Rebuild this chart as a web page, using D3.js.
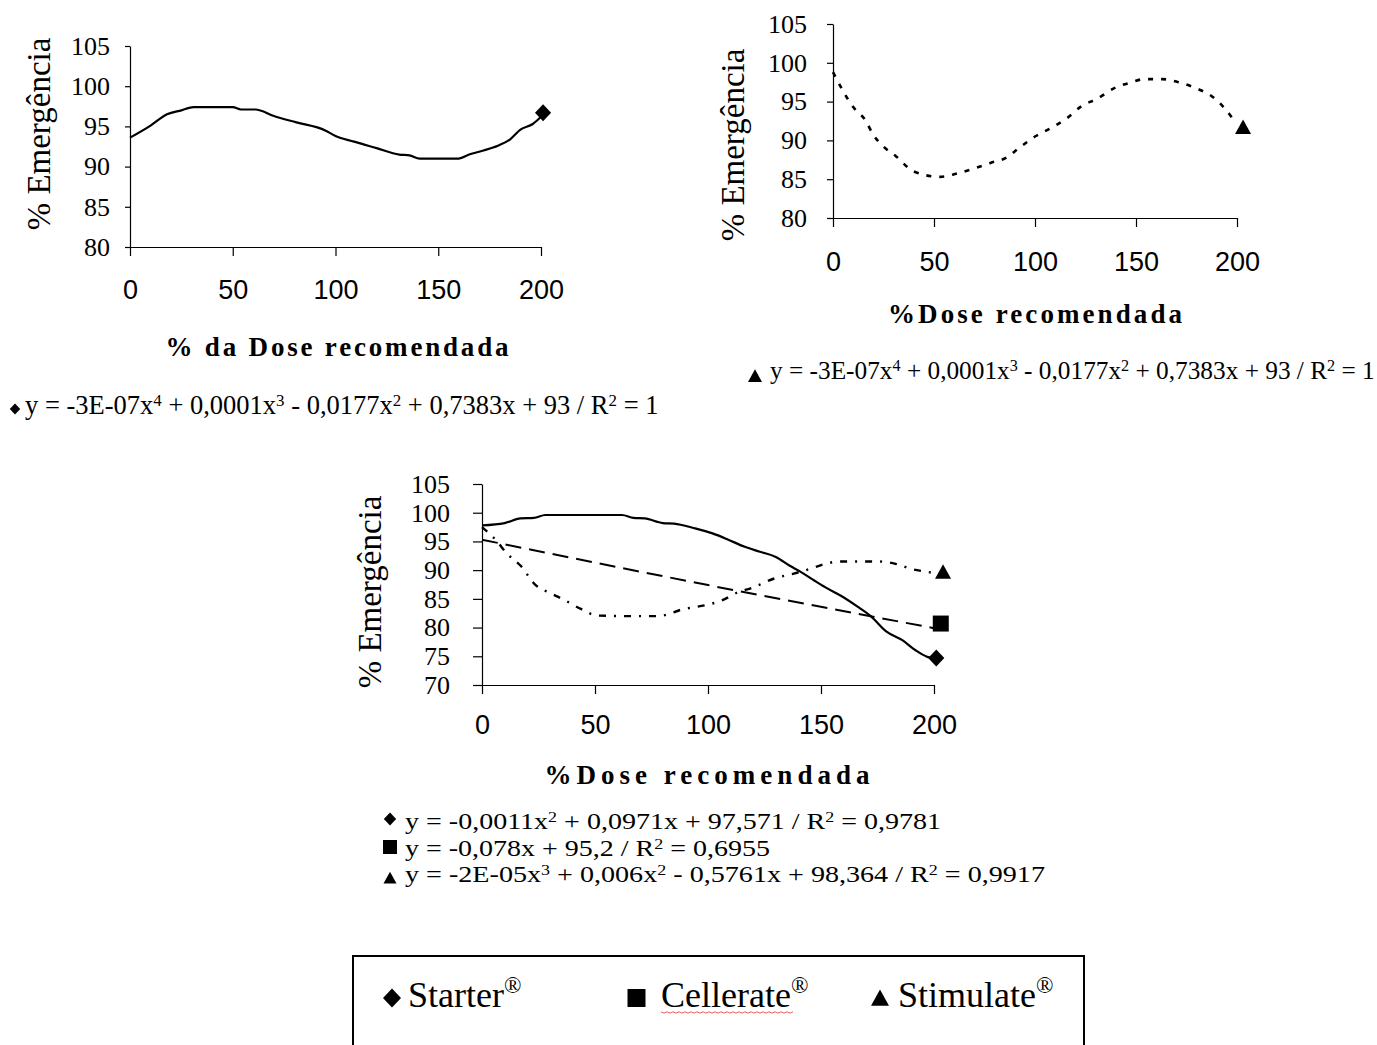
<!DOCTYPE html>
<html><head><meta charset="utf-8">
<script src="https://cdn.jsdelivr.net/npm/d3@7"></script>
<style>body{margin:0;background:#fff} svg{display:block}</style>
</head><body>
<svg id="c" width="1377" height="1045"></svg>
<script>
// ---------- DATA ----------
const doseTicks = [0, 50, 100, 150, 200];
const yTicksTop = [80, 85, 90, 95, 100, 105];
const yTicksBottom = [70, 75, 80, 85, 90, 95, 100, 105];

// Top-left: Starter alone (4th-degree fit)
const tlDose = [0, 10, 18, 25, 31, 40, 50, 54, 61, 70, 81, 95, 100, 109, 120, 131, 136, 141, 150, 160, 165, 172, 179, 185, 190, 196, 200];
const tlEmerg = [93.6, 95.1, 96.5, 97.0, 97.4, 97.4, 97.4, 97.1, 97.1, 96.3, 95.5, 94.5, 93.8, 93.1, 92.3, 91.5, 91.4, 91.0, 91.0, 91.0, 91.5, 92.0, 92.6, 93.4, 94.6, 95.3, 96.2];
const tlMarker = {dose: 201, value: 96.7};

// Top-right: Stimulate alone
const trDose = [0, 10, 16, 20, 25, 31, 40, 53, 61, 70, 78, 86, 92, 100, 108, 116, 123, 131, 139, 148, 154, 163, 171, 180, 188, 194, 199];
const trEmerg = [98.8, 94.3, 92.6, 90.7, 89.2, 88.0, 86.0, 85.3, 85.7, 86.4, 87.1, 87.8, 89.0, 90.5, 91.6, 92.9, 94.4, 95.4, 96.7, 97.5, 97.9, 97.9, 97.5, 96.7, 95.6, 94.1, 92.4];
const trMarker = {dose: 203, value: 91.7};

// Bottom: combined
const starterDose = [0, 10, 17, 23, 28, 45, 62, 67, 72, 80, 85, 94, 102, 109, 116, 123, 130, 136, 141, 147, 152, 159, 166, 172, 179, 186, 192, 197, 200];
const starterEmerg = [97.8, 98.2, 99.0, 99.1, 99.6, 99.6, 99.6, 99.1, 99.0, 98.2, 98.1, 97.3, 96.4, 95.3, 94.1, 93.2, 92.3, 90.8, 89.7, 88.2, 87.0, 85.5, 83.7, 82.0, 79.3, 77.8, 76.0, 74.9, 74.6];
const cellerateDose = [0, 100, 200];
const cellerateEmerg = [95.3, 87.4, 79.9];
const stimulateDose = [0, 6, 11, 17, 24, 28, 36, 44, 51, 64, 78, 89, 100, 106, 113, 120, 129, 138, 145, 152, 158, 176, 183, 190, 197, 200];
const stimulateEmerg = [97.5, 95.3, 92.9, 90.8, 87.3, 86.4, 84.9, 83.2, 82.1, 82.0, 82.0, 83.2, 84.0, 84.7, 86.1, 87.0, 88.5, 89.4, 90.2, 91.1, 91.5, 91.5, 91.1, 90.2, 89.7, 89.5];
const bMarkers = [
  {shape: "diamond", dose: 201, value: 74.7},
  {shape: "square", dose: 203, value: 80.7},
  {shape: "triangle", dose: 204, value: 89.7}
];

const eqTopLeft = "y = -3E-07x^4 + 0,0001x^3 - 0,0177x^2 + 0,7383x + 93 / R^2 = 1";
const eqTopRight = "y = -3E-07x^4 + 0,0001x^3 - 0,0177x^2 + 0,7383x + 93 / R^2 = 1";
const eqBottom = [
  {shape: "diamond", text: "y = -0,0011x^2 + 0,0971x + 97,571 / R^2 = 0,9781"},
  {shape: "square", text: "y = -0,078x + 95,2 / R^2 = 0,6955"},
  {shape: "triangle", text: "y = -2E-05x^3 + 0,006x^2 - 0,5761x + 98,364 / R^2 = 0,9917"}
];
const legendItems = [
  {shape: "diamond", name: "Starter"},
  {shape: "square", name: "Cellerate"},
  {shape: "triangle", name: "Stimulate"}
];
const yTitle = "% Emergência";

// ---------- DRAWING ----------
const svg = d3.select("#c");
const SERIF = "'Liberation Serif','Times New Roman',serif";
const SANS = "'Liberation Sans',Arial,sans-serif";

function shapePath(shape, s) {
  const h = s / 2;
  if (shape === "diamond") return `M0,${-h}L${h * 0.95},0L0,${h}L${-h * 0.95},0Z`;
  if (shape === "square") return `M${-h},${-h}H${h}V${h}H${-h}Z`;
  return `M0,${-h * 0.95}L${h},${h * 0.85}L${-h},${h * 0.85}Z`;
}
function marker(g, shape, x, y, s) {
  g.append("path").attr("d", shapePath(shape, s))
    .attr("transform", `translate(${x},${y})`).attr("fill", "#000");
}
function richText(sel, str, fs) {
  const parts = str.split(/(\^\d)/).filter(p => p.length);
  let raised = false;
  parts.forEach(p => {
    if (p.startsWith("^")) {
      sel.append("tspan").attr("dy", -fs * 0.3).attr("font-size", fs * 0.64).text(p.slice(1));
      raised = true;
    } else {
      const t = sel.append("tspan").text(p);
      if (raised) { t.attr("dy", fs * 0.3); raised = false; }
    }
  });
}

function chart(cfg) {
  const x = d3.scaleLinear().domain([0, 200]).range([cfg.x0, cfg.x1]);
  const y = d3.scaleLinear().domain(cfg.yDomain).range([cfg.yb, cfg.yt]);
  const g = svg.append("g");

  const ya = g.append("g").attr("transform", `translate(${cfg.x0},0)`)
    .call(d3.axisLeft(y).tickValues(cfg.yTicks).tickSize(cfg.yTick).tickSizeOuter(0).tickPadding(cfg.yPad));
  ya.attr("font-family", SERIF).attr("font-size", 26);
  ya.selectAll("text").attr("fill", "#000");
  ya.selectAll("line,path").attr("stroke", "#000").attr("stroke-width", 1.2);

  const xa = g.append("g").attr("transform", `translate(0,${cfg.yb})`)
    .call(d3.axisBottom(x).tickValues(doseTicks).tickSize(cfg.xTick).tickSizeOuter(0).tickPadding(cfg.xPad));
  xa.attr("font-family", SANS).attr("font-size", 27);
  xa.selectAll("text").attr("fill", "#000");
  xa.selectAll("line,path").attr("stroke", "#000").attr("stroke-width", 1.2);

  g.append("text").attr("transform", `translate(${cfg.ytx},${cfg.yty}) rotate(-90)`)
    .attr("text-anchor", "middle").attr("font-family", SERIF).attr("font-size", 33)
    .attr("fill", "#000").text(yTitle);
  g.append("text").attr("x", cfg.xtx - cfg.xtw / 2).attr("y", cfg.xty)
    .attr("font-family", SERIF).attr("font-size", 27).attr("font-weight", "bold")
    .attr("textLength", cfg.xtw).attr("lengthAdjust", "spacing")
    .attr("fill", "#000").text(cfg.xTitle);

  cfg.series.forEach(s => {
    const line = d3.line().x((d, i) => x(s.xs[i])).y(d => y(d)).curve(d3.curveMonotoneX);
    g.append("path").attr("d", line(s.ys)).attr("fill", "none").attr("stroke", "#000")
      .attr("stroke-width", s.w).attr("stroke-dasharray", s.dash || null);
  });
  cfg.markers.forEach(m => marker(g, m.shape, x(m.dose), y(m.value), m.shape === "diamond" ? 17 : 16));
}

chart({
  x0: 130, x1: 541, yt: 46, yb: 247, yDomain: [80, 105], yTicks: yTicksTop,
  yTick: 5, yPad: 15, xTick: 9, xPad: 24,
  ytx: 50, yty: 134, xtx: 337, xty: 356, xtw: 343, xTitle: "% da Dose recomendada",
  series: [{xs: tlDose, ys: tlEmerg, w: 2.2}],
  markers: [{shape: "diamond", dose: tlMarker.dose, value: tlMarker.value}]
});
chart({
  x0: 833, x1: 1237, yt: 24, yb: 218, yDomain: [80, 105], yTicks: yTicksTop,
  yTick: 6, yPad: 20, xTick: 9, xPad: 25,
  ytx: 744, yty: 145, xtx: 1035, xty: 323, xtw: 294, xTitle: "%Dose recomendada",
  series: [{xs: trDose, ys: trEmerg, w: 2.6, dash: "5,8"}],
  markers: [{shape: "triangle", dose: trMarker.dose, value: trMarker.value}]
});
chart({
  x0: 482, x1: 934, yt: 484, yb: 685, yDomain: [70, 105], yTicks: yTicksBottom,
  yTick: 9, yPad: 23, xTick: 9, xPad: 21,
  ytx: 381, yty: 592, xtx: 707, xty: 784, xtw: 325, xTitle: "%Dose recomendada",
  series: [
    {xs: starterDose, ys: starterEmerg, w: 2.2},
    {xs: cellerateDose, ys: cellerateEmerg, w: 2, dash: "16,8"},
    {xs: stimulateDose, ys: stimulateEmerg, w: 2.4, dash: "7,8,2,8"}
  ],
  markers: bMarkers
});

// Equations
function eq(xm, ym, shape, str, fs, tx, ty, ms, len) {
  marker(svg, shape, xm, ym, ms);
  const t = svg.append("text").attr("x", tx).attr("y", ty)
    .attr("font-family", SERIF).attr("font-size", fs).attr("fill", "#000");
  if (len) t.attr("textLength", len).attr("lengthAdjust", "spacingAndGlyphs");
  richText(t, str, fs);
}
eq(15, 409, "diamond", eqTopLeft, 26.5, 25, 414, 11);
eq(755, 376, "triangle", eqTopRight, 25.3, 770, 379, 14);
const eqMarkY = [819, 847, 878];
const eqLen = [536, 365, 640];
eqBottom.forEach((e, i) => eq(390, eqMarkY[i], e.shape, e.text, 23, 405, 829 + i * 26.5,
  e.shape === "square" ? 14 : 13, eqLen[i]));

// Legend box
svg.append("rect").attr("x", 353).attr("y", 956).attr("width", 731).attr("height", 110)
  .attr("fill", "none").attr("stroke", "#000").attr("stroke-width", 2);
const legMarkX = [392, 636.5, 880];
const legTextX = [408, 661, 898];
legendItems.forEach((it, i) => {
  marker(svg, it.shape, legMarkX[i], 998, it.shape === "diamond" ? 19 : 18);
  const t = svg.append("text").attr("x", legTextX[i]).attr("y", 1007)
    .attr("font-family", SERIF).attr("font-size", 36).attr("fill", "#000");
  t.append("tspan").text(it.name);
  t.append("tspan").attr("dy", -14).attr("font-size", 23).text("®");
});
// spell-check squiggle under Cellerate
const sq = d3.range(0, 135, 3).map((d, i) => [661 + d, 1012 + (i % 2 ? 1.2 : -0.2)]);
svg.append("path").attr("d", d3.line()(sq)).attr("fill", "none").attr("stroke", "#e06060").attr("stroke-width", 1);
</script>
</body></html>
